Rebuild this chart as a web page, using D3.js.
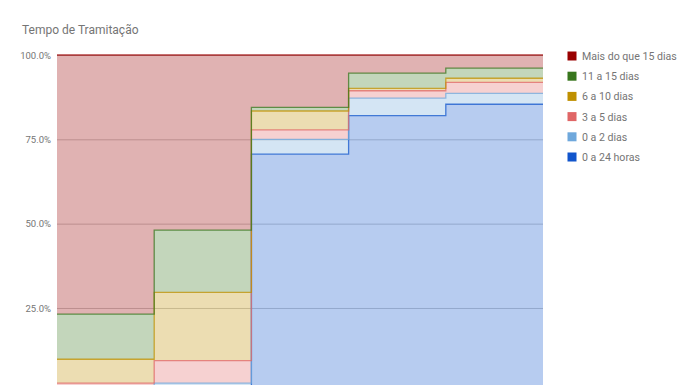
<!DOCTYPE html>
<html>
<head>
<meta charset="utf-8">
<script src="https://cdn.jsdelivr.net/npm/d3@7"></script>
<style>
  body { margin: 0; background: #fff; }
  svg { font-family: Roboto, Arial, sans-serif; }
</style>
</head>
<body>
<script>
// periods (x labels are cut off in the original)
const categories = ["1", "2", "3", "4", "5"];

const seriesNames = ["0 a 24 horas", "0 a 2 dias", "3 a 5 dias", "6 a 10 dias", "11 a 15 dias", "Mais do que 15 dias"];
const seriesColors = ["#1155cc", "#6fa8dc", "#e06666", "#bf9000", "#38761d", "#990000"];

// percent of cases per period
const horas24 = [0.5, 1.5, 70.6, 82.0, 85.4];
const dias0a2 = [1.0, 1.2, 4.4, 5.2, 3.2];
const dias3a5 = [1.2, 6.7, 2.8, 2.2, 3.3];
const dias6a10 = [7.1, 20.2, 5.6, 0.7, 1.2];
const dias11a15 = [13.4, 18.5, 1.1, 4.5, 3.0];
const mais15 = [76.8, 51.9, 15.5, 5.4, 3.9];

// 0% sits just below the visible edge, so only these show
const yTicks = [0.25, 0.5, 0.75, 1];

const width = 696;
const height = 385;
const plotLeft = 57, plotRight = 543, plotTop = 55, plotBottom = 392.3;

const allSeries = [horas24, dias0a2, dias3a5, dias6a10, dias11a15, mais15];
const rows = categories.map((c, i) => {
  const r = { cat: c };
  seriesNames.forEach((n, k) => (r[n] = allSeries[k][i]));
  return r;
});

const stacked = d3.stack().keys(seriesNames).offset(d3.stackOffsetExpand)(rows);

const x = d3.scaleBand().domain(categories).range([plotLeft, plotRight]).padding(0);
const y = d3.scaleLinear().domain([0, 1]).range([plotBottom, plotTop]);

const svg = d3.select("body").append("svg")
  .attr("width", width)
  .attr("height", height);

svg.append("text")
  .attr("x", 22)
  .attr("y", 34)
  .attr("font-size", "12px")
  .attr("fill", "#757575")
  .text("Tempo de Tramitação");

const yAxis = d3.axisLeft(y)
  .tickValues(yTicks)
  .tickFormat(d3.format(".1%"))
  .tickSize(-(plotRight - plotLeft))
  .tickPadding(6);

const ga = svg.append("g")
  .attr("transform", `translate(${plotLeft},0)`)
  .call(yAxis);
ga.select(".domain").remove();
ga.selectAll(".tick line").attr("stroke", "#cccccc");
ga.selectAll(".tick text")
  .attr("fill", "#757575")
  .attr("font-size", "9.5px")
  .attr("font-family", "Roboto, Arial, sans-serif");

// step points: each category spans its whole band
function stepPoints(layer) {
  const pts = [];
  layer.forEach((d, i) => {
    const x0 = x(categories[i]);
    const x1 = x0 + x.bandwidth();
    pts.push({ x: x0, y0: d[0], y1: d[1] });
    pts.push({ x: x1, y0: d[0], y1: d[1] });
  });
  return pts;
}

const area = d3.area()
  .x((p) => p.x)
  .y0((p) => y(p.y0))
  .y1((p) => y(p.y1));

const line = d3.line()
  .x((p) => p.x)
  .y((p) => y(p.y1));

const layers = svg.append("g");
stacked.forEach((layer, k) => {
  const pts = stepPoints(layer);
  layers.append("path")
    .attr("d", area(pts))
    .attr("fill", seriesColors[k])
    .attr("fill-opacity", 0.3);
});
stacked.forEach((layer, k) => {
  const pts = stepPoints(layer);
  layers.append("path")
    .attr("d", line(pts))
    .attr("fill", "none")
    .attr("stroke", seriesColors[k])
    .attr("stroke-opacity", 0.75)
    .attr("stroke-width", 1.3);
});

const legend = svg.append("g");
const legendOrder = seriesNames.map((n, k) => k).reverse();
legendOrder.forEach((k, i) => {
  const yy = 56 + i * 20.2;
  legend.append("rect")
    .attr("x", 567.5)
    .attr("y", yy - 4.5)
    .attr("width", 9)
    .attr("height", 9)
    .attr("fill", seriesColors[k]);
  legend.append("text")
    .attr("x", 582)
    .attr("y", yy + 4)
    .attr("font-size", "10.6px")
    .attr("fill", "#757575")
    .text(seriesNames[k]);
});
</script>
</body>
</html>
